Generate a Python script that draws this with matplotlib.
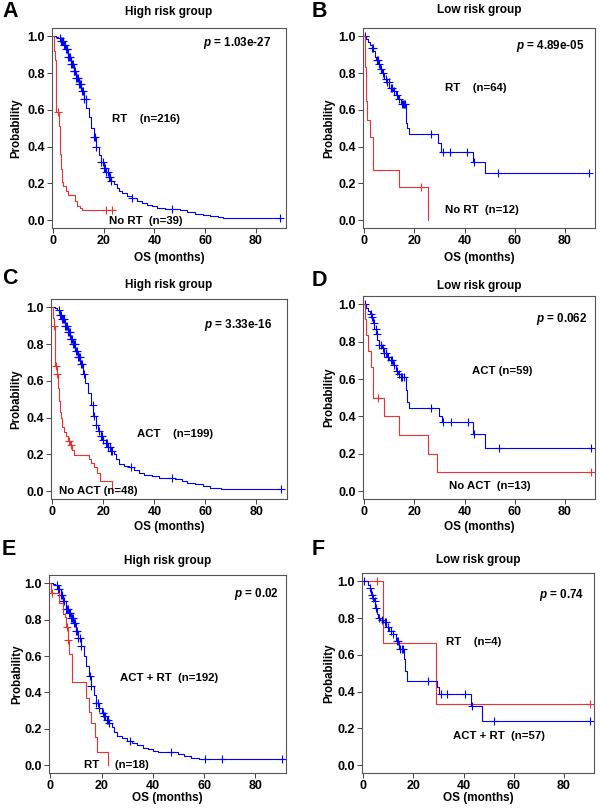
import numpy as np
import matplotlib.pyplot as plt

plt.rcParams['font.family'] = 'Liberation Sans'
plt.rcParams['font.weight'] = 'bold'
plt.rcParams['mathtext.fontset'] = 'custom'
plt.rcParams['mathtext.it'] = 'Liberation Sans:italic:bold'
plt.rcParams['mathtext.rm'] = 'Liberation Sans:bold'

# ---------------- DATA ---------------- #

# A: high risk, RT vs no RT
A_rt_t = [1, 2, 3, 4, 5, 6, 7, 8, 9, 10, 11, 12, 13, 14, 15, 16, 17, 18, 19, 20, 21, 22, 23,
          24, 25, 26, 27, 29, 31, 33, 35, 37, 39, 41, 44, 50, 53, 56, 59, 62, 65, 67]
A_rt_s = [0.997, 0.99, 0.975, 0.955, 0.93, 0.89, 0.85, 0.81, 0.775, 0.74, 0.70, 0.66, 0.61,
          0.56, 0.50, 0.45, 0.40, 0.355, 0.315, 0.285, 0.26, 0.235, 0.215, 0.195, 0.175, 0.16,
          0.147, 0.13, 0.12, 0.105, 0.095, 0.085, 0.075, 0.065, 0.06, 0.055, 0.045, 0.035,
          0.03, 0.025, 0.018, 0.012]
A_rt_c = [2.5, 3, 3.3, 3.8, 4.2, 4.5, 5, 5.3, 5.6, 6, 6.3, 6.6, 7, 7.3, 7.7, 8, 8.3, 8.6, 9,
          9.3, 9.6, 10, 10.4, 10.8, 11.2, 11.6, 12.2, 12.8, 16, 16.5, 17, 19, 19.5, 20, 20.5, 21,
          21.5, 22, 22.5, 23, 31, 47, 89.5]
A_no_t = [0.2, 0.5, 0.9, 2.2, 2.5, 2.8, 3.1, 3.4, 3.7, 5.0, 5.8, 8.5, 9.5, 10.5, 11.5]
A_no_s = [0.92, 0.87, 0.59, 0.51, 0.44, 0.36, 0.28, 0.21, 0.185, 0.16, 0.135, 0.105, 0.08,
          0.065, 0.054]
A_no_c = [1.8, 21, 23.3]

# B: low risk, RT vs no RT
B_rt_t = [0.8, 1.5, 2.3, 2.9, 3.5, 4.2, 4.8, 5.5, 6.2, 7.0, 8.0, 9.0, 10.0, 11.5, 12.5, 13.5,
          14.5, 16.6, 17.1, 17.7, 29.4, 30.7, 43.4, 48.2]
B_rt_s = [0.984, 0.968, 0.952, 0.936, 0.92, 0.89, 0.87, 0.85, 0.82, 0.80, 0.77, 0.75, 0.72,
          0.70, 0.68, 0.66, 0.63, 0.53, 0.50, 0.467, 0.42, 0.37, 0.316, 0.256]
B_rt_c = [0.3, 3, 3.3, 5, 5.3, 5.8, 6.5, 7.5, 8.5, 9, 9.8, 10.5, 11, 12, 13, 14, 15, 15.5, 15.8,
          16.2, 26.5, 31.5, 34, 41, 43.8, 53.5, 89.5]
B_no_t = [0.1, 0.3, 0.5, 0.8, 1.0, 2.3, 3.3, 13.8, 25.5]
B_no_s = [0.917, 0.833, 0.75, 0.65, 0.545, 0.455, 0.273, 0.182, 0.0]
B_no_c = [22.8]

# C: high risk, ACT vs no ACT
C_act_t = [1, 2, 3, 4, 5, 6, 7, 8, 9, 10, 11, 12, 13, 14, 15, 16, 17, 18, 19, 20, 21, 22, 23,
           24, 25, 26, 28, 30, 32, 34, 36, 39, 42, 48, 51, 53, 56, 59, 62, 66]
C_act_s = [0.995, 0.985, 0.96, 0.935, 0.9, 0.865, 0.83, 0.8, 0.765, 0.73, 0.69, 0.64, 0.59,
           0.535, 0.47, 0.41, 0.36, 0.325, 0.3, 0.28, 0.26, 0.24, 0.22, 0.2, 0.175, 0.15, 0.14,
           0.13, 0.115, 0.1, 0.09, 0.085, 0.07, 0.065, 0.058, 0.045, 0.04, 0.03, 0.02, 0.012]
C_act_c = [2.5, 3, 3.5, 4, 4.3, 4.7, 5, 5.5, 5.8, 6.2, 6.5, 6.8, 7.2, 7.5, 7.8, 8.2, 8.5, 8.8,
           9.2, 9.5, 10, 10.4, 10.8, 11.3, 11.8, 12.5, 15.8, 16.2, 17, 18.5, 19, 19.5, 20, 21,
           21.5, 22, 22.5, 23, 23.5, 31, 47, 89.5]
C_no_t = [0.2, 0.6, 1.0, 1.7, 2.1, 2.6, 3.0, 3.4, 3.9, 4.5, 5.2, 6.2, 7.0, 7.9, 8.5, 14.2, 15.2,
          16.4, 17.7, 18.6, 23.5]
C_no_s = [0.94, 0.9, 0.68, 0.64, 0.56, 0.49, 0.43, 0.4, 0.35, 0.32, 0.3, 0.275, 0.25, 0.225,
          0.197, 0.175, 0.155, 0.13, 0.1, 0.058, 0.0]
C_no_c = [0.8, 1.4, 1.9, 6.6, 7.2]

# D: low risk, ACT vs no ACT
D_act_t = [0.8, 1.5, 2.2, 2.8, 3.4, 4.0, 4.6, 5.2, 5.8, 7.0, 8.0, 9.0, 10.0, 11.5, 12.5, 13.5,
           14.5, 16.5, 17.0, 17.8, 29.8, 31.0, 43.5, 48.2]
D_act_s = [0.983, 0.966, 0.95, 0.93, 0.9, 0.87, 0.84, 0.81, 0.78, 0.765, 0.74, 0.72, 0.70,
           0.675, 0.645, 0.63, 0.61, 0.54, 0.48, 0.446, 0.40, 0.37, 0.307, 0.23]
D_act_c = [0.3, 2.5, 3.2, 3.8, 4.5, 5.0, 6.0, 6.5, 7.5, 8.0, 8.5, 9.5, 10.5, 11.0, 12.0, 13.0,
           14.0, 14.8, 15.2, 15.8, 26.5, 31.5, 34.5, 41.2, 43.8, 53.6, 90.5]
D_no_t = [0.1, 0.5, 1.6, 2.7, 3.3, 7.7, 14.0, 25.6, 29.2]
D_no_s = [0.923, 0.834, 0.75, 0.667, 0.5, 0.4, 0.3, 0.2, 0.1]
D_no_c = [5.6, 90.5]

# E: high risk, ACT + RT vs RT
E_both_t = [1, 2, 3, 4, 5, 6, 7, 8, 9, 10, 11, 12, 13, 14, 15, 16, 17, 18, 19, 20, 21, 22, 23,
            24, 25, 26, 28, 30, 32, 34, 36, 38, 40, 42, 50, 52, 55, 58]
E_both_s = [0.995, 0.99, 0.97, 0.935, 0.9, 0.86, 0.835, 0.81, 0.78, 0.74, 0.7, 0.655, 0.6,
            0.545, 0.49, 0.435, 0.385, 0.345, 0.315, 0.29, 0.27, 0.25, 0.23, 0.21, 0.185, 0.16,
            0.15, 0.135, 0.12, 0.11, 0.097, 0.088, 0.08, 0.073, 0.065, 0.05, 0.04, 0.035]
E_both_c = [2.5, 3, 3.5, 4, 4.5, 5, 5.5, 6, 6.4, 6.8, 7.2, 7.6, 8, 8.4, 8.8, 9.2, 9.6, 10, 10.5,
            11, 11.5, 12, 15.5, 16, 18, 18.5, 19, 20.5, 21, 21.5, 22, 22.5, 23, 31, 47, 60.5, 67,
            90.5]
E_rt_t = [0.3, 3.5, 5.0, 5.6, 6.3, 6.8, 7.2, 8.6, 14.0, 15.0, 15.8, 17.3, 18.4, 22.5]
E_rt_s = [0.944, 0.889, 0.833, 0.817, 0.76, 0.69, 0.61, 0.457, 0.372, 0.295, 0.235, 0.156,
          0.076, 0.0]
E_rt_c = [0.8, 6.5, 7.0]

# F: low risk, ACT + RT vs RT
F_both_t = [1.8, 2.5, 3.2, 3.8, 4.3, 4.7, 5.5, 6.0, 6.5, 7.8, 9.1, 10.4, 11.7, 13.0, 14.4, 16.1,
            16.6, 17.4, 29.5, 30.2, 43.0, 47.3]
F_both_s = [0.982, 0.964, 0.928, 0.91, 0.892, 0.856, 0.82, 0.80, 0.79, 0.776, 0.75, 0.73, 0.713,
            0.677, 0.632, 0.578, 0.515, 0.46, 0.425, 0.386, 0.32, 0.242]
F_both_c = [0.3, 2.8, 3.3, 4.0, 4.5, 5.0, 6.2, 7.5, 8.5, 9.0, 10.0, 11.0, 12.0, 13.5, 14.0, 14.8,
            15.3, 15.8, 25.8, 30.8, 33.5, 40.4, 43.4, 52.3, 90.5]
F_rt_t = [7.8, 29.0]
F_rt_s = [0.667, 0.333]
F_rt_c = [5.5, 90.5]

letters = ["A", "B", "C", "D", "E", "F"]
titles = ["High risk group", "Low risk group"] * 3
pvals = ["1.03e-27", "4.89e-05", "3.33e-16", "0.062", "0.02", "0.74"]

BLUE = "#0000ff"
RED = "#ee3030"

# ---------------- LAYOUT (pixels) ---------------- #

W, H = 600, 809
fig = plt.figure(figsize=(W / 100, H / 100), dpi=100)


def fx(x):
    return x / W


def fy(y):
    return 1 - y / H


def km(ax, t, s, cens, color):
    t = np.asarray(t, float)
    s = np.asarray(s, float)
    c = np.asarray(cens, float)
    end = max(t[-1], c.max()) if len(c) else t[-1]
    ax.step(np.r_[0, t, end], np.r_[1, s, s[-1]], where="post", color=color, lw=0.8)
    idx = np.searchsorted(t, c, side="right") - 1
    cy = np.where(idx >= 0, s[np.clip(idx, 0, None)], 1.0)
    ax.plot(c, cy, "+", color=color, ms=5.5, mew=0.8)


# box (x0, y0, x1, y1) in pixels
boxes = [(52, 28, 286, 228), (363, 28, 595, 228),
         (51, 299, 287, 499), (363, 296, 595, 499),
         (49, 575, 286, 773), (362, 573, 594, 773)]
title_y = [12, 10, 285, 286, 561, 560]
letter_y = [17, 17, 284, 286, 555, 555]
xlab_y = [258, 258, 527, 527, 798, 798]
ylab_x = [16, 329, 16, 329, 17, 329]

curves = [
    [(A_rt_t, A_rt_s, A_rt_c, BLUE), (A_no_t, A_no_s, A_no_c, RED)],
    [(B_rt_t, B_rt_s, B_rt_c, BLUE), (B_no_t, B_no_s, B_no_c, RED)],
    [(C_act_t, C_act_s, C_act_c, BLUE), (C_no_t, C_no_s, C_no_c, RED)],
    [(D_act_t, D_act_s, D_act_c, BLUE), (D_no_t, D_no_s, D_no_c, RED)],
    [(E_both_t, E_both_s, E_both_c, BLUE), (E_rt_t, E_rt_s, E_rt_c, RED)],
    [(F_rt_t, F_rt_s, F_rt_c, RED), (F_both_t, F_both_s, F_both_c, BLUE)],
]

# group labels: text, x, y (data coords)
labels = [
    [("RT    (n=216)", 36.5, 0.55), ("No RT  (n=39)", 36.5, -0.005)],
    [("RT    (n=64)", 44.5, 0.72), ("No RT  (n=12)", 47, 0.055)],
    [("ACT    (n=199)", 48, 0.31), ("No ACT (n=48)", 18, 0.0)],
    [("ACT (n=59)", 55, 0.645), ("No ACT  (n=13)", 50, 0.03)],
    [("ACT + RT  (n=192)", 46.5, 0.48), ("RT     (n=18)", 26, 0.0)],
    [("RT    (n=4)", 44, 0.668), ("ACT + RT  (n=57)", 54, 0.16)],
]
p_x = [72.5, 74, 73, 78.5, 80.5, 79]
p_y = [0.965, 0.947, 0.906, 0.923, 0.942, 0.928]

for i in range(6):
    x0, y0, x1, y1 = boxes[i]
    ax = fig.add_axes([fx(x0), fy(y1), fx(x1 - x0), (y1 - y0) / H])
    for t, s, c, col in curves[i]:
        km(ax, t, s, c, col)

    ax.set_xlim(-0.5, 92)
    ax.set_ylim(-0.042, 1.045)
    ax.set_xticks([0, 20, 40, 60, 80])
    ax.set_yticks([0, 0.2, 0.4, 0.6, 0.8, 1.0])
    ax.set_yticklabels(["0.0", "0.2", "0.4", "0.6", "0.8", "1.0"])
    ax.tick_params(labelsize=9, length=3.5, width=0.7, color="#444444", pad=1.5)
    for sp in ax.spines.values():
        sp.set_color("#555555")
        sp.set_linewidth(0.8)

    for txt, tx, ty in labels[i]:
        ax.text(tx, ty, txt, fontsize=8.2, ha="center", va="center")
    ax.text(p_x[i], p_y[i], "$p$ = " + pvals[i], fontsize=8.4, ha="center", va="center")

    cx = (x0 + x1) / 2
    fig.text(fx(cx), fy(title_y[i]), titles[i], fontsize=8.5, ha="center", va="center")
    fig.text(fx(cx), fy(xlab_y[i]), "OS (months)", fontsize=8.5, ha="center", va="center")
    fig.text(fx(ylab_x[i]), fy((y0 + y1) / 2), "Probability", fontsize=8.3,
             ha="center", va="center", rotation=90)
    lx = 2 if x0 < 300 else 312
    fig.text(fx(lx), fy(letter_y[i]), letters[i], fontsize=15.5, ha="left", va="baseline")

fig.savefig("out.png", dpi=100)
